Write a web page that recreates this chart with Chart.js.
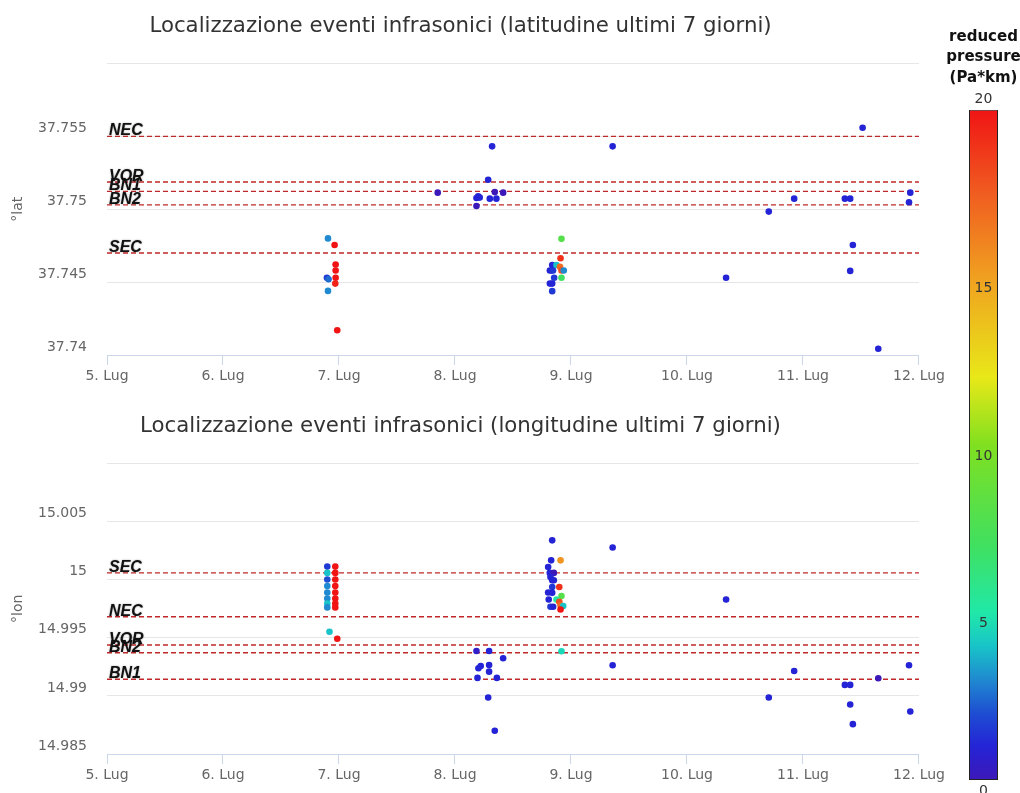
<!DOCTYPE html>
<html><head><meta charset="utf-8">
<script src="https://cdn.jsdelivr.net/npm/chart.js@4.4.1/dist/chart.umd.min.js"></script>
<style>
html,body{margin:0;padding:0;background:#fff;overflow:hidden;width:1020px;height:793px;}
canvas{position:absolute;}
</style></head><body>
<canvas id="latChart" width="948" height="390" style="left:0;top:0"></canvas>
<canvas id="lonChart" width="948" height="393" style="left:0;top:400px"></canvas>
<canvas id="cbChart" width="79" height="793" style="left:944px;top:0"></canvas>
<script>
// ---------- data ----------
const xTickLabels = ['5. Lug','6. Lug','7. Lug','8. Lug','9. Lug','10. Lug','11. Lug','12. Lug'];
const latTickLabels = ['37.74','37.745','37.75','37.755',''];
const lonTickLabels = ['14.985','14.99','14.995','15','15.005',''];

const latTitle = 'Localizzazione eventi infrasonici (latitudine ultimi 7 giorni)';
const lonTitle = 'Localizzazione eventi infrasonici (longitudine ultimi 7 giorni)';

// time in days of July (fractional)
const latTimes = [6.905,6.962,6.971,6.971,6.896,6.91,6.971,6.968,6.905,6.985,
  7.851,8.320,8.286,8.343,8.415,8.200,8.213,8.185,8.300,8.357,8.185,
  8.918,8.910,8.838,8.875,8.905,8.818,8.832,8.845,8.918,8.938,8.855,8.918,8.818,8.838,8.838,
  9.359,10.337,10.705,10.924,11.361,11.407,11.430,11.407,11.514,11.649,11.914,11.925];
const latValues = [37.7480,37.74755,37.74621,37.7458,37.7453,37.7452,37.7453,37.7449,37.7444,37.7417,
  37.75114,37.75432,37.75203,37.75118,37.75114,37.75089,37.7508,37.75077,37.75073,37.75073,37.75023,
  37.74797,37.74664,37.74618,37.74618,37.74605,37.7458,37.7458,37.7458,37.7458,37.7458,37.7453,37.7453,37.7449,37.7449,37.74438,
  37.75432,37.7453,37.74984,37.75073,37.75073,37.75073,37.74755,37.74577,37.7556,37.74043,37.75048,37.75114];
const latPressure = [3,20,20,20,1.5,2.5,20,19.5,3,20,
  0,1,1,0,0,1,1,1,1,1,0,
  8,19,1,4,17,1,1,1.5,18,3,1.5,7,1,1,1.5,
  1,1,1,1,1,1,1,1,1,1,1,1];

const lonTimes = [6.899,6.899,6.899,6.899,6.899,6.899,6.899,6.899,
  6.968,6.968,6.968,6.968,6.968,6.968,6.968,6.968,6.918,6.985,
  8.185,8.294,8.415,8.222,8.202,8.294,8.294,8.194,8.361,8.286,8.343,
  8.838,8.829,8.910,8.803,8.817,8.852,8.823,8.838,8.852,8.838,8.899,8.803,8.838,8.918,8.808,8.875,8.899,8.910,8.823,8.846,8.933,8.910,8.918,
  9.359,9.359,10.337,10.924,10.705,11.361,11.407,11.407,11.430,11.649,11.914,11.925];
const lonValues = [15.00113,15.00059,15.00002,14.99946,14.99890,14.99839,14.99796,14.99762,
  15.00113,15.00059,15.00002,14.99946,14.99890,14.99839,14.99796,14.99762,14.99552,14.99492,
  14.99387,14.99387,14.99324,14.99258,14.99238,14.99266,14.99209,14.99155,14.99155,14.98986,14.98700,
  15.00339,15.00167,15.00167,15.00110,15.00059,15.00059,15.00024,14.99996,14.99996,14.99938,14.99938,14.99890,14.99887,14.99859,14.99830,14.99830,14.99810,14.99779,14.99767,14.99767,14.99773,14.99744,14.99384,
  15.00278,14.99264,14.99830,14.99215,14.98986,14.99095,14.99095,14.98926,14.98757,14.99152,14.99264,14.98866];
const lonPressure = [1.5,4,2,3,3,3,4,3,
  20,20,20,20,20,20,20,20,4,20,
  0.5,1,1,1,1,1,1,1,1,1,1,
  1,1,15.5,1,1,0,1,1,1,1.5,19,1,1,8,1,5,18,17,1.5,1,4,20,4.5,
  1,1,1,1,1,1,1,1,1,0,1,1];

const latRefNames = ['NEC','VOR','BN1','BN2','SEC'];
const latRefValues = [37.7550,37.75187,37.75123,37.7503,37.7470];
const lonRefNames = ['SEC','NEC','VOR','BN2','BN1'];
const lonRefValues = [15.00059,14.99681,14.99438,14.99372,14.99144];

const cbTicks = [0,5,10,15,20];
const cbTitle = ['reduced','pressure','(Pa*km)'];

// ---------- styling helpers ----------
const cmapStops = [[0,'#3d18b8'],[0.05,'#2424d6'],[0.1,'#1e4ed2'],[0.15,'#1f8ad0'],[0.2,'#18c4c8'],
  [0.25,'#20e8a8'],[0.35,'#40e060'],[0.5,'#80e020'],[0.6,'#e8e818'],[0.75,'#f0a020'],[0.88,'#f05a20'],[1,'#f01414']];
function hex(h){return [parseInt(h.slice(1,3),16),parseInt(h.slice(3,5),16),parseInt(h.slice(5,7),16)];}
function colorFor(p){
  const t = Math.max(0, Math.min(1, p/20));
  for (let i=1;i<cmapStops.length;i++){
    if (t <= cmapStops[i][0]){
      const [t0,c0]=cmapStops[i-1],[t1,c1]=cmapStops[i];
      const f=(t-t0)/(t1-t0), a=hex(c0), b=hex(c1);
      return 'rgb('+a.map((v,k)=>Math.round(v+(b[k]-v)*f)).join(',')+')';
    }
  }
  return cmapStops[cmapStops.length-1][1];
}

Chart.defaults.font.family = "'DejaVu Sans', sans-serif";
Chart.defaults.color = '#666';

function makeChart(id, title, yLabel, times, values, pressure, refNames, refValues, yMin, yMax, yTickLabels, padBottom){
  const refLabelPlugin = {
    id: 'refLabels',
    afterDatasetsDraw(chart){
      const ctx = chart.ctx, ys = chart.scales.y, x = chart.chartArea.left + 2;
      ctx.save();
      ctx.font = "italic bold 16px 'Liberation Sans', sans-serif";
      ctx.fillStyle = '#111';
      ctx.textAlign = 'left';
      ctx.textBaseline = 'alphabetic';
      ctx.shadowColor = 'rgba(0,0,0,0.35)';
      ctx.shadowBlur = 2;
      refNames.forEach((n,i)=>{ ctx.fillText(n, x, ys.getPixelForValue(refValues[i]) - 1); });
      ctx.restore();
    }
  };
  const datasets = [{
    data: times.map((t,i)=>({x:t, y:values[i]})),
    pointRadius: 3.3,
    pointBorderWidth: 0,
    pointBackgroundColor: pressure.map(colorFor),
    showLine: false
  }];
  refValues.forEach(v => datasets.push({
    data: [{x:5,y:v},{x:12,y:v}],
    showLine: true,
    borderColor: '#c0282a',
    borderWidth: 1.4,
    borderDash: [5,3],
    pointRadius: 0
  }));
  return new Chart(document.getElementById(id), {
    type: 'scatter',
    data: { datasets },
    plugins: [refLabelPlugin],
    options: {
      responsive: false,
      animation: false,
      events: [],
      layout: { padding: { left: 0, right: 27, top: 0, bottom: padBottom } },
      plugins: {
        legend: { display: false },
        tooltip: { enabled: false },
        title: { display: true, text: title, color: '#333',
          font: { size: 21.3, weight: 'normal' }, padding: { top: 14, bottom: 24 } }
      },
      scales: {
        x: {
          type: 'linear', min: 5, max: 12,
          ticks: { stepSize: 1, color: '#666', font: { size: 14 }, padding: 3,
            callback: (v,i) => xTickLabels[i] },
          grid: { drawOnChartArea: false, color: '#ccd6eb', tickLength: 10 },
          border: { color: '#ccd6eb' },
          afterFit: s => { s.height = 30; }
        },
        y: {
          min: yMin, max: yMax,
          ticks: { stepSize: 0.005, color: '#666', font: { size: 14 }, padding: 20, labelOffset: -8,
            callback: (v,i) => yTickLabels[i] },
          grid: { color: '#e6e6e6', drawTicks: false },
          border: { display: false },
          title: { display: true, text: yLabel, color: '#666', font: { size: 14 }, padding: { top: 10, bottom: 0 } },
          afterFit: s => { s.width = 107; }
        }
      }
    }
  });
}

makeChart('latChart', latTitle, '°lat', latTimes, latValues, latPressure, latRefNames, latRefValues, 37.74, 37.76, latTickLabels, 5);
makeChart('lonChart', lonTitle, '°lon', lonTimes, lonValues, lonPressure, lonRefNames, lonRefValues, 14.985, 15.01, lonTickLabels, 9);

// ---------- colour bar ----------
const cbLabelPlugin = {
  id: 'cbLabels',
  afterDraw(chart){
    const ctx = chart.ctx, ys = chart.scales.y, a = chart.chartArea;
    const cx = (a.left + a.right) / 2;
    ctx.save();
    ctx.font = "14px 'DejaVu Sans', sans-serif";
    ctx.fillStyle = '#333';
    ctx.textAlign = 'center';
    ctx.textBaseline = 'middle';
    cbTicks.forEach(v => {
      const y = ys.getPixelForValue(v) + (v === ys.max ? -10 : 11);
      ctx.fillText(String(v), cx, y);
    });
    ctx.restore();
  }
};
new Chart(document.getElementById('cbChart'), {
  type: 'bar',
  data: { labels: [''], datasets: [{
    data: [[cbTicks[0], cbTicks[cbTicks.length-1]]],
    backgroundColor: (c) => {
      const {ctx, chartArea} = c.chart;
      if (!chartArea) return '#fff';
      const g = ctx.createLinearGradient(0, chartArea.bottom, 0, chartArea.top);
      cmapStops.forEach(s => g.addColorStop(s[0], s[1]));
      return g;
    },
    borderColor: '#222', borderWidth: 1, borderSkipped: false,
    barPercentage: 0.367, categoryPercentage: 1
  }]},
  plugins: [cbLabelPlugin],
  options: {
    responsive: false, animation: false, events: [],
    layout: { padding: { left: 0, right: 0, top: 0, bottom: 13 } },
    plugins: {
      legend: { display: false }, tooltip: { enabled: false },
      title: { display: true, text: cbTitle, color: '#111',
        font: { size: 15, weight: 'bold', lineHeight: 1.35 }, padding: { top: 27, bottom: 22 } }
    },
    scales: {
      x: { display: false },
      y: { display: false, min: 0, max: 20 }
    }
  }
});
</script>
</body></html>
